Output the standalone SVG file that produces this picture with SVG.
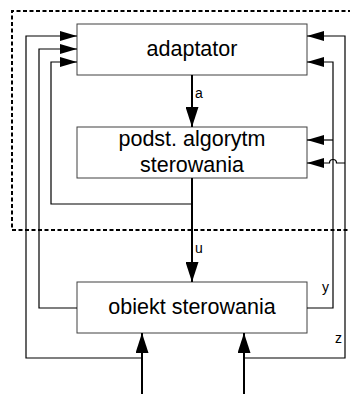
<svg xmlns="http://www.w3.org/2000/svg" width="350" height="394" viewBox="0 0 350 394">
<style>
.box{fill:#fff;stroke:#404040;stroke-width:1}
.t{font-family:"Liberation Sans",Arial,sans-serif;font-size:21.5px;fill:#000;text-anchor:middle}
.lbl{font-family:"Liberation Sans",Arial,sans-serif;font-size:14px;fill:#000}
.w{fill:none;stroke:#000;stroke-width:1.2}
.W{fill:none;stroke:#000;stroke-width:2}
.dash{fill:none;stroke:#000;stroke-width:2;stroke-dasharray:4,2.5}
</style>
<defs>
<marker id="sa" viewBox="0 0 17 10" refX="17" refY="5" markerWidth="17" markerHeight="10" markerUnits="userSpaceOnUse" orient="auto"><path d="M0,0 L17,5 L0,10 z" fill="#000"/></marker>
<marker id="ba" viewBox="0 0 20 13" refX="20" refY="6.5" markerWidth="20" markerHeight="13" markerUnits="userSpaceOnUse" orient="auto"><path d="M0,0 L20,6.5 L0,13 z" fill="#000"/></marker>
</defs>
<g id="boundary"><path class="dash" d="M352,11 H12 V230 H352"/></g>
<g id="adaptator"><rect class="box" x="77" y="24" width="230" height="51"/><text class="t" x="192" y="56">adaptator</text></g>
<g id="podst"><rect class="box" x="77" y="127" width="230" height="51"/><text class="t" x="192" y="146">podst. algorytm</text><text class="t" x="192" y="171.5">sterowania</text></g>
<g id="obiekt"><rect class="box" x="77" y="282" width="230" height="51"/><text class="t" x="192" y="313.5">obiekt sterowania</text></g>
<g id="connectors">
<path class="W" d="M192,75 V127" marker-end="url(#ba)"/>
<path class="W" d="M192,178 V282" marker-end="url(#ba)"/>
<path class="W" d="M142,394 V333" marker-end="url(#ba)"/>
<path class="W" d="M244,394 V333" marker-end="url(#ba)"/>
<path class="w" d="M142,358 H26 V36 H77" marker-end="url(#sa)"/>
<path class="w" d="M77,308 H39 V49 H77" marker-end="url(#sa)"/>
<path class="w" d="M192,204 H51 V62 H77" marker-end="url(#sa)"/>
<path class="w" d="M307,308 H333 V62 H307" marker-end="url(#sa)"/>
<path class="w" d="M333,140 H307" marker-end="url(#sa)"/>
<path class="w" d="M244,358 H345 V36 H307" marker-end="url(#sa)"/>
<path class="w" d="M345,163 H336.5 A3.5,3.5 0 0 0 329.5,163 H307" marker-end="url(#sa)"/>
<text class="lbl" x="195" y="98">a</text>
<text class="lbl" x="195" y="253">u</text>
<text class="lbl" x="322" y="292">y</text>
<text class="lbl" x="335" y="343">z</text>
</g>
</svg>
